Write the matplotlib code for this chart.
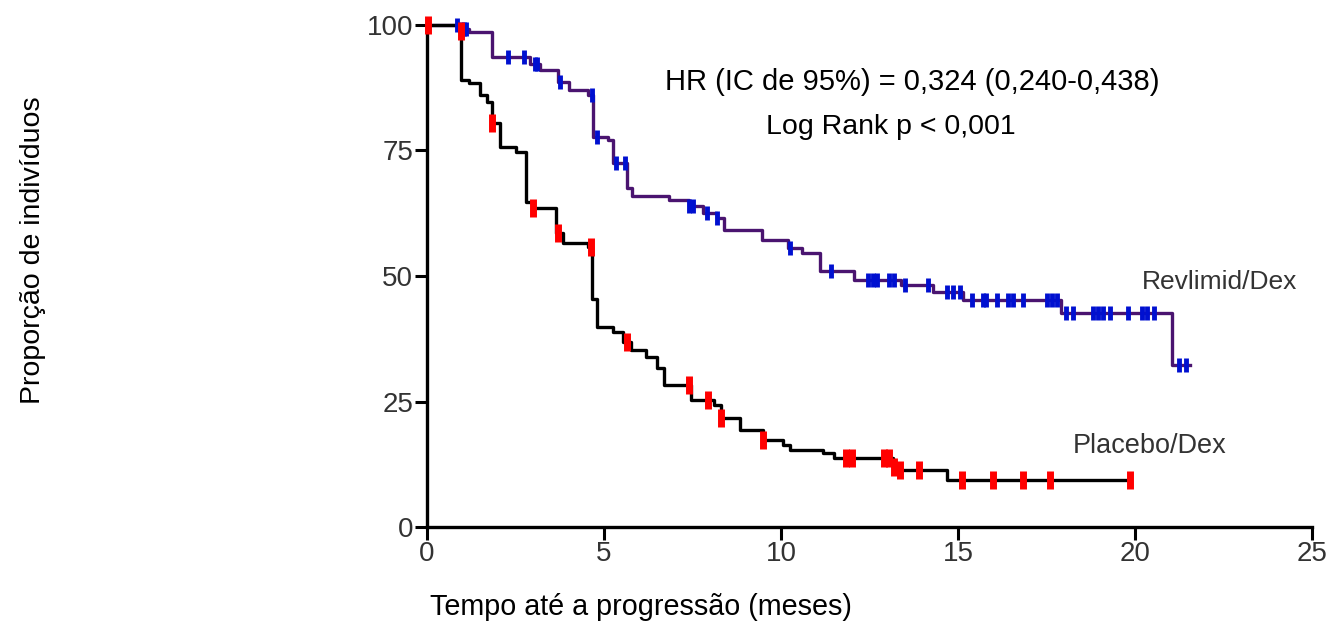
import numpy as np
import matplotlib
matplotlib.use('Agg')
import matplotlib.pyplot as plt

# Revlimid/Dex curve (step times in months, % event-free)
t_rev = [0, 0.9, 1.2, 1.85, 2.9, 3.2, 3.7, 4.0, 4.55, 4.7, 5.1, 5.25, 5.65, 5.8,
         6.85, 7.4, 7.8, 8.2, 8.4, 9.45, 10.2, 10.6, 11.1, 12.05, 13.4, 14.3,
         15.15, 17.9, 21.05, 21.55]
s_rev = [100, 99.3, 98.6, 93.6, 92.3, 91.0, 88.6, 87.0, 86.0, 77.7, 77.0, 72.5,
         67.5, 66.0, 65.1, 64.0, 62.5, 61.5, 59.2, 57.2, 55.6, 54.6, 51.0, 49.3,
         48.2, 46.8, 45.3, 42.6, 32.3, 32.3]
cens_rev = [0.85, 0.95, 1.05, 1.1, 2.3, 2.75, 3.05, 3.1, 3.75, 4.65, 4.8, 5.35,
            5.6, 7.4, 7.5, 7.9, 8.2, 10.25, 11.4, 12.45, 12.6, 12.7, 13.05,
            13.2, 13.5, 14.15, 14.7, 14.85, 15.05, 15.4, 15.7, 15.8, 16.1, 16.4,
            16.55, 16.85, 17.5, 17.65, 17.8, 18.05, 18.25, 18.8, 18.95, 19.1,
            19.3, 19.8, 20.2, 20.35, 20.55, 21.25, 21.45]

# Placebo/Dex curve
t_pla = [0, 0.9, 0.97, 1.2, 1.5, 1.7, 1.85, 2.05, 2.5, 2.8, 3.0, 3.65, 3.85,
         4.55, 4.65, 4.8, 5.25, 5.55, 5.75, 6.2, 6.5, 6.7, 7.45, 8.1, 8.3,
         8.85, 9.5, 10.05, 10.25, 11.2, 11.5, 13.15, 13.35, 14.7, 19.85]
s_pla = [100, 98.8, 89, 88.4, 86, 84.6, 80.5, 75.7, 74.7, 64.7, 63.5, 58.6,
         56.6, 55.8, 45.5, 39.8, 38.9, 36.9, 35.3, 33.9, 31.6, 28.3, 25.3, 24.3,
         21.7, 19.3, 17.3, 16.3, 15.4, 14.7, 13.7, 12.0, 11.3, 9.4, 9.4]
cens_pla = [0.03, 0.95, 1.85, 3.0, 3.7, 4.63, 5.65, 7.4, 7.95, 8.3, 9.5, 11.85,
            12.0, 12.9, 13.05, 13.2, 13.35, 13.9, 15.1, 16.0, 16.85, 17.6, 19.85]

x_ticks = [0, 5, 10, 15, 20, 25]
y_ticks = [0, 25, 50, 75, 100]

plt.rcParams['font.family'] = ['Liberation Sans', 'DejaVu Sans']


def step_value(times, surv, t):
    idx = np.searchsorted(times, t, side='right') - 1
    return np.array(surv)[idx]


fig = plt.figure(figsize=(13.29, 6.38), dpi=100)
ax = fig.add_axes([427 / 1329, 1 - 527 / 638, 885 / 1329, 502 / 638])

ax.step(t_rev, s_rev, where='post', color='#4a1470', lw=2.4, clip_on=False, zorder=3)
ax.step(t_pla, s_pla, where='post', color='black', lw=2.4, clip_on=False, zorder=3)

ax.plot(cens_rev, step_value(t_rev, s_rev, cens_rev), ls='none', marker='|',
        ms=10, mew=3.5, color='#0010d0', clip_on=False, zorder=4)
ax.plot(cens_pla, step_value(t_pla, s_pla, cens_pla), ls='none', marker='|',
        ms=13, mew=5, color='#ff0000', clip_on=False, zorder=4)

ax.set_xlim(0, 25)
ax.set_ylim(0, 100)
ax.set_xticks(x_ticks)
ax.set_yticks(y_ticks)
for s in ['top', 'right']:
    ax.spines[s].set_visible(False)
for s in ['left', 'bottom']:
    ax.spines[s].set_linewidth(2.4)
ax.tick_params(width=2.2, length=9, labelsize=20, labelcolor='#333333', pad=1)

ax.text(13.7, 88.6, 'HR (IC de 95%) = 0,324 (0,240-0,438)', fontsize=21,
        ha='center', va='center')
ax.text(13.1, 79.7, 'Log Rank p < 0,001', fontsize=20.5, ha='center', va='center')
ax.text(22.4, 48.8, 'Revlimid/Dex', fontsize=19, ha='center', va='center',
        color='#333333')
ax.text(20.4, 16.1, 'Placebo/Dex', fontsize=19.5, ha='center', va='center',
        color='#333333')

fig.text(33 / 1329, 1 - 250 / 638, 'Proporção de indivíduos', rotation=90,
         fontsize=20.5, ha='center', va='center')
fig.text(641 / 1329, 1 - 607 / 638, 'Tempo até a progressão (meses)',
         fontsize=20.7, ha='center', va='center')

fig.savefig('out.png', dpi=100)
